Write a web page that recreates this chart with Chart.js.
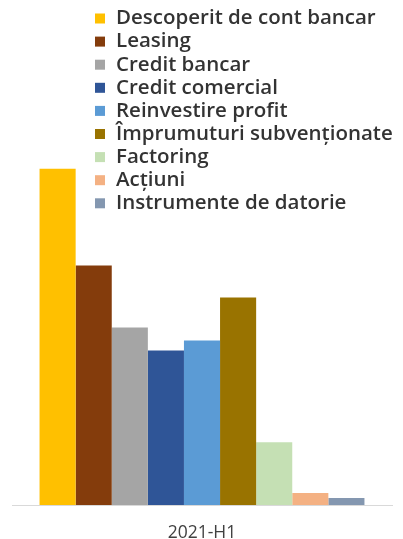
<!DOCTYPE html>
<html>
<head>
<meta charset="utf-8">
<script src="https://cdn.jsdelivr.net/npm/chart.js@4/dist/chart.umd.min.js"></script>
<style>
  html, body { margin: 0; padding: 0; background: #fff; }
  #wrap { width: 403px; height: 539px; position: relative; }
</style>
</head>
<body>
<div id="wrap"><canvas id="grafic"></canvas></div>
<script>
let perioade = ['2021-H1']
let surse = ['Descoperit de cont bancar', 'Leasing', 'Credit bancar', 'Credit comercial', 'Reinvestire profit',
    'Împrumuturi subvenționate', 'Factoring', 'Acțiuni', 'Instrumente de datorie']
let valori = [33.7, 24.0, 17.8, 15.5, 16.5, 20.8, 6.3, 1.2, 0.7]
let culori = ['#FFC000', '#843C0C', '#A5A5A5', '#2F5597', '#5B9BD5', '#997300', '#C5E0B4', '#F4B183', '#8497B0']

// legenda pe o singura coloana, desenata peste zona graficului
const legendaColoana = {
    id: 'legendaColoana',
    afterDraw(chart) {
        const ctx = chart.ctx
        ctx.save()
        ctx.font = '600 20.5px "Open Sans"'
        ctx.textBaseline = 'middle'
        chart.data.datasets.forEach((ds, i) => {
            let y = 18.5 + i * 23.1
            ctx.fillStyle = ds.backgroundColor
            ctx.fillRect(95, y - 5, 10, 10)
            ctx.fillStyle = '#333333'
            ctx.fillText(ds.label, 116, y)
        })
        ctx.restore()
    }
}

let ctx = document.getElementById('grafic')
new Chart(ctx, {
    type: 'bar',
    data: {
        labels: perioade,
        datasets: surse.map((s, i) => ({
            label: s,
            data: [valori[i]],
            backgroundColor: culori[i],
            barPercentage: 1,
            categoryPercentage: 0.855
        }))
    },
    options: {
        responsive: true,
        maintainAspectRatio: false,
        animation: false,
        layout: { padding: { top: 106, left: 12, right: 11, bottom: -22 } },
        plugins: {
            legend: { display: false },
            tooltip: { enabled: false }
        },
        scales: {
            x: {
                grid: { display: false, drawTicks: false },
                border: { color: '#d9d9d9', width: 1 },
                ticks: { color: '#404040', font: { family: 'Open Sans', size: 17.5 }, padding: 17.5 }
            },
            y: {
                display: false,
                min: 0,
                max: 40
            }
        }
    },
    plugins: [legendaColoana]
})
</script>
</body>
</html>
